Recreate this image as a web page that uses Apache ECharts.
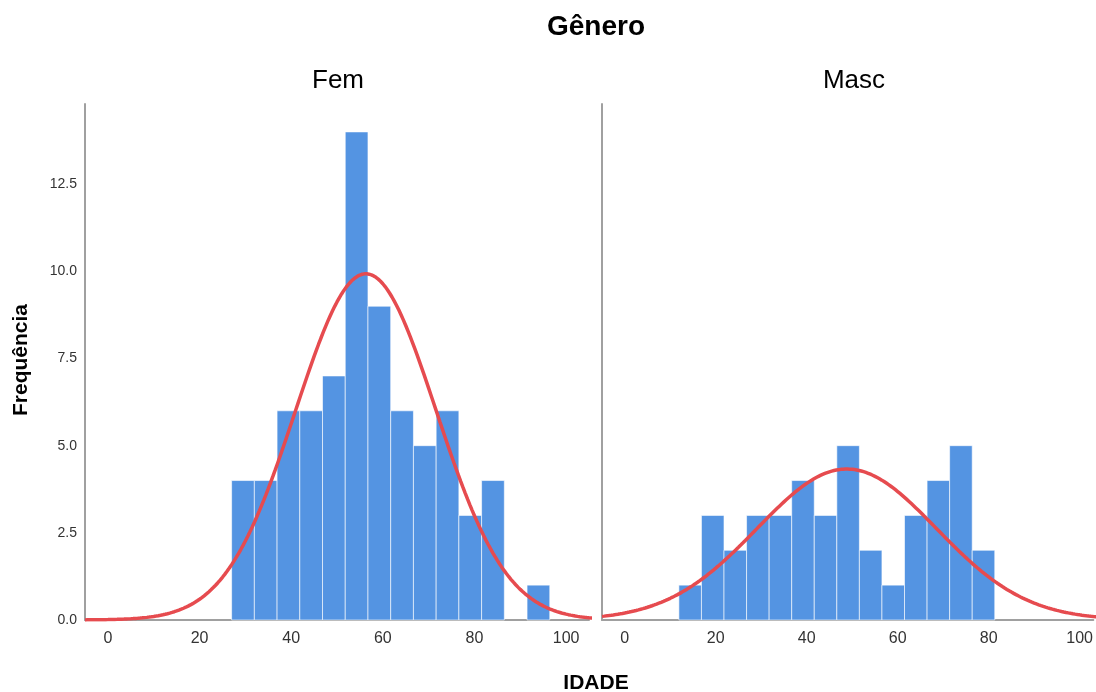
<!DOCTYPE html>
<html>
<head>
<meta charset="utf-8">
<script src="https://cdn.jsdelivr.net/npm/echarts@6/dist/echarts.min.js"></script>
<style>
  html, body { margin: 0; padding: 0; background: #ffffff; }
  #chart { width: 1096px; height: 692px; }
</style>
</head>
<body>
<div id="chart"></div>
<script>
// ---- data ----
const panelTitles = ['Fem', 'Masc'];
const femCounts  = [4, 4, 6, 6, 7, 14, 9, 6, 5, 6, 3, 4, 0, 1];
const mascCounts = [1, 3, 2, 3, 3, 4, 3, 5, 2, 1, 3, 4, 5, 2];
const femBinStart = 27.0;
const mascBinStart = 11.9;
const binWidth = 4.96;
const xTicks = [0, 20, 40, 60, 80, 100];
const yTicks = [0, 2.5, 5, 7.5, 10, 12.5];
const femXRange = [-5, 105];
const mascXRange = [-5, 103];   // right panel is cut by the image edge
const curveRange = [-5, 106];
const yMax = 14.8;
// fitted normal curves (mean, sd, peak height in frequency units)
const femMean = 56.3, femSd = 15.3, femPeak = 9.93;
const mascMean = 48.8, mascSd = 19.7, mascPeak = 4.33;

// ---- build library inputs ----
function bins(start, counts) {
  return counts.map((c, i) => [start + i * binWidth, start + (i + 1) * binWidth, c]);
}
function normalCurve(mean, sd, peak, range) {
  const pts = [];
  for (let x = range[0]; x <= range[1] + 1e-9; x += 0.5) {
    pts.push([x, peak * Math.exp(-((x - mean) * (x - mean)) / (2 * sd * sd))]);
  }
  return pts;
}

const BAR = '#5494e2';
const CURVE = '#e64b4f';
const AXIS = '#a0a0a0';
const FONT = '"Liberation Sans", Arial, sans-serif';

function renderBin(params, api) {
  const c = api.value(2);
  if (!c) return null;
  const p0 = api.coord([api.value(0), c]);
  const p1 = api.coord([api.value(1), 0]);
  return {
    type: 'rect',
    shape: { x: p0[0], y: p0[1], width: p1[0] - p0[0], height: p1[1] - p0[1] },
    style: { fill: BAR, stroke: 'rgba(255,255,255,0.6)', lineWidth: 1 }
  };
}

function xAxisCfg(gi, range) {
  return {
    type: 'value', gridIndex: gi, min: range[0], max: range[1],
    splitLine: { show: false },
    axisTick: { show: false },
    axisLine: { show: true, lineStyle: { color: AXIS, width: 2 } },
    axisLabel: { customValues: xTicks, fontSize: 16, color: '#333', margin: 11, fontFamily: FONT }
  };
}
function yAxisCfg(gi, showLabels) {
  return {
    type: 'value', gridIndex: gi, min: 0, max: yMax,
    splitLine: { show: false },
    axisTick: { show: false },
    axisLine: { show: true, onZero: false, lineStyle: { color: AXIS, width: 2 } },
    axisLabel: {
      show: showLabels, customValues: yTicks, fontSize: 14, color: '#333', margin: 8, fontFamily: FONT,
      formatter: v => Number(v).toFixed(1)
    }
  };
}

const chart = echarts.init(document.getElementById('chart'), null, { renderer: 'canvas' });
chart.setOption({
  backgroundColor: '#ffffff',
  animation: false,
  grid: [
    { left: 85, top: 104, width: 504, height: 516 },
    { left: 602, top: 104, width: 494, height: 516 }
  ],
  xAxis: [xAxisCfg(0, femXRange), xAxisCfg(1, mascXRange)],
  yAxis: [yAxisCfg(0, true), yAxisCfg(1, false)],
  series: [
    { type: 'custom', xAxisIndex: 0, yAxisIndex: 0, renderItem: renderBin,
      encode: { x: [0, 1], y: 2 }, data: bins(femBinStart, femCounts), z: 2 },
    { type: 'custom', xAxisIndex: 1, yAxisIndex: 1, renderItem: renderBin,
      encode: { x: [0, 1], y: 2 }, data: bins(mascBinStart, mascCounts), z: 2 },
    { type: 'line', xAxisIndex: 0, yAxisIndex: 0, data: normalCurve(femMean, femSd, femPeak, curveRange),
      showSymbol: false, smooth: false, lineStyle: { color: CURVE, width: 3.5 }, z: 5, clip: true },
    { type: 'line', xAxisIndex: 1, yAxisIndex: 1, data: normalCurve(mascMean, mascSd, mascPeak, curveRange),
      showSymbol: false, smooth: false, lineStyle: { color: CURVE, width: 3.5 }, z: 5, clip: true }
  ],
  graphic: [
    { type: 'text', style: { x: 596, y: 27, text: 'Gênero', font: 'bold 28px ' + FONT, fill: '#000', textAlign: 'center', textVerticalAlign: 'middle' } },
    { type: 'text', style: { x: 338, y: 81, text: panelTitles[0], font: '26px ' + FONT, fill: '#000', textAlign: 'center', textVerticalAlign: 'middle' } },
    { type: 'text', style: { x: 854, y: 81, text: panelTitles[1], font: '26px ' + FONT, fill: '#000', textAlign: 'center', textVerticalAlign: 'middle' } },
    { type: 'text', style: { x: 596, y: 683, text: 'IDADE', font: 'bold 21px ' + FONT, fill: '#000', textAlign: 'center', textVerticalAlign: 'middle' } },
    { type: 'text', x: 21, y: 360, rotation: Math.PI / 2, style: { x: 0, y: 0, text: 'Frequência', font: 'bold 21px ' + FONT, fill: '#000', textAlign: 'center', textVerticalAlign: 'middle' } }
  ]
});
</script>
</body>
</html>
